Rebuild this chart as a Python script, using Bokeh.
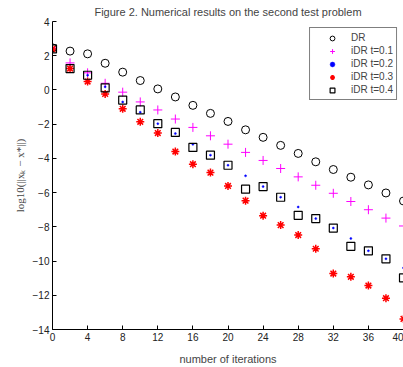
from bokeh.plotting import figure
from bokeh.models import Range1d, FixedTicker, Legend, LegendItem
from bokeh.embed import file_html
from bokeh.resources import INLINE

iters = [0, 2, 4, 6, 8, 10, 12, 14, 16, 18, 20, 22, 24, 26, 28, 30, 32, 34, 36, 38, 40]
dr = [2.46, 2.27, 2.11, 1.56, 1.04, 0.55, 0.06, -0.41, -0.90, -1.37, -1.84, -2.33, -2.77,
      -3.24, -3.71, -4.20, -4.65, -5.10, -5.55, -6.02, -6.49]
idr01 = [2.45, 1.58, 1.00, 0.39, -0.13, -0.70, -1.17, -1.70, -2.19, -2.68, -3.17, -3.65,
         -4.12, -4.59, -5.08, -5.57, -6.04, -6.52, -7.00, -7.49, -7.95]
idr02 = [2.40, 1.25, 0.86, 0.18, -0.70, -1.30, -1.97, -2.55, -3.18, -3.81, -4.40, -5.02,
         -5.65, -6.27, -6.84, -7.52, -8.07, -8.68, -9.40, -9.87, -10.40]
idr03 = [2.40, 1.25, 0.49, -0.23, -1.10, -1.86, -2.52, -3.60, -4.34, -4.83, -5.61, -6.47,
         -7.35, -7.90, -8.48, -9.28, -10.73, -10.92, -11.43, -12.17, -13.38]
idr04 = [2.40, 1.25, 0.86, 0.12, -0.59, -1.17, -1.97, -2.48, -3.36, -3.81, -4.40, -5.80,
         -5.65, -6.27, -7.33, -7.52, -8.07, -9.14, -9.40, -9.87, -10.98]
x_ticks = [0, 4, 8, 12, 16, 20, 24, 28, 32, 36, 40]
y_ticks = [-14, -12, -10, -8, -6, -4, -2, 0, 2, 4]
labels = ["DR", "iDR t=0.1", "iDR t=0.2", "iDR t=0.3", "iDR t=0.4"]

p = figure(width=403, height=367, output_backend="svg", toolbar_location=None,
           x_range=Range1d(0, 40), y_range=Range1d(-14, 4),
           min_border_left=52, min_border_right=0, min_border_top=0, min_border_bottom=0,
           title="Figure 2. Numerical results on the second test problem")
p.title.align = "center"
p.title.text_font = "Liberation Sans"
p.title.text_font_size = "11px"
p.title.text_font_style = "normal"
p.title.standoff = 7
p.outline_line_color = None
p.xgrid.visible = False
p.ygrid.visible = False

r1 = p.scatter(iters, dr, marker="circle", size=8, fill_color=None, line_color="black", line_width=1)
r2 = p.scatter(iters, idr01, marker="cross", size=9, line_color="#ff00ff", line_width=1)
r3 = p.scatter(iters, idr02, marker="circle", size=2, fill_color="#0000ff", line_color="#0000ff", line_width=0.5)
r4 = p.scatter(iters, idr03, marker="asterisk", size=8, line_color="#ff0000", line_width=1.5)
r5 = p.scatter(iters, idr04, marker="square", size=8, fill_color=None, line_color="black", line_width=1.2)

for ax in (p.xaxis[0], p.yaxis[0]):
    ax.major_tick_in = 4
    ax.major_tick_out = 0
    ax.minor_tick_line_color = None
    ax.major_label_text_font = "Liberation Sans"
    ax.major_label_text_font_size = "10px"
    ax.major_label_text_color = "#222222"
    ax.axis_line_color = "black"
    ax.major_tick_line_color = "black"
    ax.major_label_standoff = 3

p.xaxis.ticker = FixedTicker(ticks=x_ticks)
p.yaxis.ticker = FixedTicker(ticks=y_ticks)
p.xaxis.axis_label = "number of iterations"
p.xaxis.axis_label_text_font = "Liberation Sans"
p.xaxis.axis_label_text_font_size = "11px"
p.xaxis.axis_label_text_font_style = "normal"
p.xaxis.axis_label_standoff = 9
p.yaxis.axis_label = "log10(||xₖ − x*||)"
p.yaxis.axis_label_text_font = "Liberation Serif"
p.yaxis.axis_label_text_font_size = "11px"
p.yaxis.axis_label_text_font_style = "normal"
p.yaxis.axis_label_text_color = "#444444"
p.yaxis.axis_label_standoff = 4

legend = Legend(items=[LegendItem(label=l, renderers=[r]) for l, r in zip(labels, [r1, r2, r3, r4, r5])],
                location="top_right")
legend.margin = 6
legend.padding = 3
legend.spacing = 0
legend.glyph_width = 38
legend.glyph_height = 12
legend.label_height = 13
legend.label_standoff = 0
legend.label_text_font = "Liberation Sans"
legend.label_text_font_size = "10px"
legend.border_line_color = "black"
legend.border_line_width = 1
p.add_layout(legend, "center")

open("out.html", "w").write(file_html(p, INLINE))
